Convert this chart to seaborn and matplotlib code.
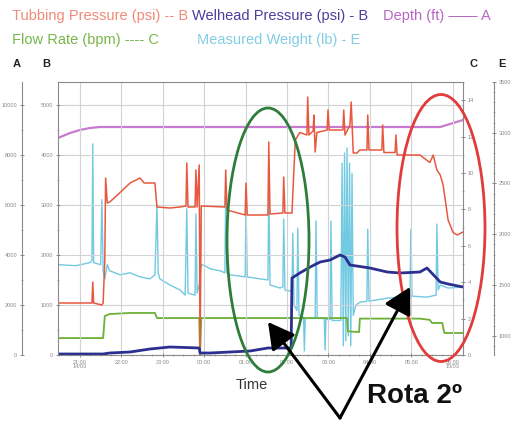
import matplotlib
matplotlib.use("Agg")
import matplotlib.pyplot as plt
import seaborn as sns
from matplotlib.patches import Ellipse, FancyArrowPatch
from matplotlib.ticker import MultipleLocator

# x positions are hours elapsed since 21:00
time_ticks = [0, 1, 2, 3, 4, 5, 6, 7, 8, 9]
time_labels = ["21:00\n14/03", "22:00", "23:00", "00:00", "01:00",
               "02:00", "03:00", "04:00", "05:00", "06:00\n15/03"]

# Tubing pressure (psi) - axis B
tubing_t = [-0.53, 0.24, 0.29, 0.31, 0.33, 0.53, 0.56, 0.60, 0.62, 0.66, 0.72, 0.97,
            1.21, 1.45, 1.55, 1.81, 1.86, 2.17, 2.42, 2.56, 2.58, 2.61, 2.78, 2.80,
            2.83, 2.88, 2.90, 2.93, 3.50, 3.52, 3.55, 3.99, 4.01, 4.04, 4.54, 4.56,
            4.59, 4.90, 4.92, 4.95, 5.12, 5.20, 5.31, 5.48, 5.50, 5.53, 5.63, 5.65,
            5.68, 5.72, 5.97, 5.99, 6.02, 6.35, 6.37, 6.40, 6.52, 6.55, 6.60, 6.69,
            6.76, 6.93, 6.95, 6.98, 7.29, 7.31, 7.34, 7.61, 7.63, 7.66, 8.21, 8.45,
            8.53, 8.62, 8.70, 8.77, 8.89, 9.01, 9.11, 9.25]
tubing_psi = [1040, 1040, 1040, 1460, 1040, 1000, 1040, 1900, 3540, 3040, 3060, 3250,
              3440, 3540, 3440, 3440, 2960, 2940, 2960, 2980, 3840, 2960, 2960, 3700,
              2960, 3800, 0, 2980, 2960, 3700, 2900, 2800, 3440, 2800, 2800, 4260,
              2820, 2840, 3560, 2840, 2840, 4300, 4450, 4400, 5160, 4400, 4480, 4800,
              4060, 4450, 4500, 4900, 4500, 4500, 4900, 4400, 4600, 5060, 4040, 4040,
              4100, 4100, 4800, 4100, 4100, 4600, 4050, 4050, 4400, 4000, 4000, 3850,
              4000, 3700, 3600, 3400, 2700, 2450, 2400, 2460]

# Wellhead pressure (psi) - axis B
wellhead_t = [-0.53, 0.56, 0.72, 1.21, 1.69, 2.17, 2.54, 2.88, 2.90, 3.14, 3.62, 4.11,
              4.54, 5.10, 5.12, 5.31, 5.56, 5.80, 6.04, 6.28, 6.40, 6.52, 7.00, 7.42,
              7.73, 8.21, 8.38, 8.70, 8.89, 9.25]
wellhead_psi = [20, 20, 40, 60, 120, 160, 150, 140, 40, 40, 60, 80,
                140, 140, 1540, 1640, 1760, 1860, 1900, 2000, 1960, 1800, 1740, 1660,
                1640, 1660, 1740, 1460, 1420, 1360]

# Depth (ft) - axis A
depth_t = [-0.53, -0.24, 0.0, 0.24, 0.48, 8.70, 9.25]
depth_ft = [8680, 8880, 9000, 9080, 9120, 9120, 9400]

# Flow rate (bpm) - axis C
flow_t = [-0.53, 0.56, 0.60, 0.72, 1.21, 1.81, 1.86, 2.88, 2.90, 2.93, 6.45, 6.47,
          6.74, 6.76, 8.20, 8.45, 8.50, 8.75, 8.80, 9.25]
flow_bpm = [0.93, 0.93, 2.14, 2.25, 2.31, 2.31, 2.03, 2.03, 0.0, 2.03, 2.03, 1.30,
            1.26, 2.0, 2.0, 1.93, 1.76, 1.76, 1.21, 1.21]

# Measured weight (lb) - axis E
weight_t = [-0.53, -0.10, 0.24, 0.29, 0.31, 0.33, 0.50, 0.53, 0.56, 0.60, 0.66, 0.72,
            0.97, 1.21, 1.45, 1.69, 1.81, 1.86, 1.89, 1.93, 2.17, 2.42, 2.54, 2.58,
            2.61, 2.78, 2.80, 2.83, 2.88, 2.93, 3.02, 3.14, 3.38, 3.50, 3.52, 3.55,
            3.62, 3.99, 4.01, 4.04, 4.35, 4.54, 4.56, 4.59, 4.83, 4.90, 4.92, 4.95,
            5.07, 5.12, 5.14, 5.17, 5.24, 5.26, 5.29, 5.40, 5.42, 5.44, 5.56, 5.68,
            5.70, 5.73, 5.90, 5.92, 5.94, 6.04, 6.06, 6.09, 6.30, 6.33, 6.36, 6.39,
            6.42, 6.45, 6.48, 6.51, 6.54, 6.57, 6.60, 6.66, 6.76, 6.93, 6.95, 6.98,
            7.42, 7.73, 7.97, 7.99, 8.02, 8.38, 8.60, 8.62, 8.65, 8.70, 8.89, 9.25]
weight_lb = [1700, 1690, 1720, 1740, 2890, 1720, 1700, 2340, 1640, 1560, 1700, 1640,
             1600, 1620, 1580, 1560, 1600, 2290, 1620, 1560, 1500, 1450, 1400, 2250,
             1420, 1400, 2200, 1420, 1500, 1700, 1690, 1660, 1640, 1620, 2390, 1620,
             1600, 1580, 2270, 1580, 1560, 1550, 2500, 1500, 1470, 1480, 2150, 1450,
             1440, 1450, 2010, 1300, 1250, 2060, 1200, 1180, 850, 1170, 1170, 1170,
             2130, 1170, 1170, 860, 1160, 1160, 2130, 1150, 1150, 2700, 900, 2800,
             950, 2850, 1000, 2700, 900, 2600, 1200, 1300, 1330, 1340, 2050, 1340,
             1370, 1380, 1370, 2050, 1390, 1380, 1400, 2100, 1450, 1500, 1470, 1480]

FW, FH = 515, 423


def fpos(x, y):
    return x / FW, 1 - y / FH


sns.set_theme(style="white")
plt.rcParams["font.family"] = ["Liberation Sans", "DejaVu Sans"]

fig = plt.figure(figsize=(FW / 100, FH / 100), dpi=100)
fig.patch.set_facecolor("white")
ax = fig.add_axes([58 / FW, 68 / FH, 405 / FW, 273 / FH])

axE = ax.twinx()
axC = ax.twinx()
axA = ax.twinx()

ax.set_zorder(4)
ax.patch.set_visible(False)
axE.set_zorder(1)
axC.set_zorder(2)
axA.set_zorder(3)

TUB = "#e8583f"
WELL = "#2c2f8f"
DEPTH = "#c77ad0"
FLOW = "#6cb035"
WEIGHT = "#72c9e2"
GRID = "#cfd3d3"
AXC = "#8a8a8a"

sns.lineplot(x=weight_t, y=weight_lb, ax=axE, estimator=None, sort=False,
             color=WEIGHT, lw=1.0)
sns.lineplot(x=flow_t, y=flow_bpm, ax=axC, estimator=None, sort=False,
             color=FLOW, lw=1.3)
sns.lineplot(x=depth_t, y=depth_ft, ax=axA, estimator=None, sort=False,
             color=DEPTH, lw=1.6)
sns.lineplot(x=tubing_t, y=tubing_psi, ax=ax, estimator=None, sort=False,
             color=TUB, lw=1.1)
sns.lineplot(x=wellhead_t, y=wellhead_psi, ax=ax, estimator=None, sort=False,
             color=WELL, lw=2.0)

for a in (ax, axA, axC, axE):
    a.set_xlim(-0.53, 9.25)
    a.set_xlabel("")
    a.set_ylabel("")
    for s in a.spines.values():
        s.set_visible(False)

# B axis (main, left spine of plot box)
ax.set_ylim(0, 5460)
ax.yaxis.set_major_locator(MultipleLocator(1000))
ax.yaxis.set_minor_locator(MultipleLocator(500))
for side in ("left", "top", "bottom"):
    ax.spines[side].set_visible(True)
    ax.spines[side].set_color(AXC)
    ax.spines[side].set_linewidth(0.8)
ax.set_xticks(time_ticks)
ax.set_xticklabels(time_labels)
ax.xaxis.set_minor_locator(MultipleLocator(0.25))
ax.grid(True, which="major", color=GRID, lw=0.8)
ax.tick_params(axis="both", which="major", direction="inout", length=3, width=0.7,
               colors=AXC, labelsize=4, pad=2)
ax.tick_params(axis="both", which="minor", direction="inout", length=2, width=0.5,
               colors=AXC)
ax.tick_params(axis="x", which="both", bottom=True, labelbottom=True)
ax.tick_params(axis="y", which="both", left=True)
for t in ax.get_xticklabels():
    t.set_linespacing(0.9)

# A axis (outer left)
axA.set_ylim(0, 10920)
axA.yaxis.tick_left()
axA.spines["left"].set_visible(True)
axA.spines["left"].set_position(("outward", 26))
axA.spines["left"].set_color(AXC)
axA.spines["left"].set_linewidth(0.8)
axA.yaxis.set_major_locator(MultipleLocator(2000))
axA.yaxis.set_minor_locator(MultipleLocator(1000))
axA.tick_params(axis="y", which="major", direction="inout", length=3, width=0.7,
                colors=AXC, labelsize=4, pad=2)
axA.tick_params(axis="y", which="minor", direction="inout", length=2, width=0.5,
                colors=AXC)
axA.tick_params(axis="x", which="both", bottom=False, top=False,
                labelbottom=False, labeltop=False)

# C axis (right spine of plot box)
axC.set_ylim(0, 15)
axC.spines["right"].set_visible(True)
axC.spines["right"].set_color(AXC)
axC.spines["right"].set_linewidth(0.8)
axC.yaxis.set_major_locator(MultipleLocator(2))
axC.yaxis.set_minor_locator(MultipleLocator(1))
axC.tick_params(axis="y", which="major", direction="inout", length=3, width=0.7,
                colors=AXC, labelsize=4, pad=2)
axC.tick_params(axis="y", which="minor", direction="inout", length=2, width=0.5,
                colors=AXC)
axC.tick_params(axis="x", which="both", bottom=False, top=False,
                labelbottom=False, labeltop=False)

# E axis (outer right)
axE.set_ylim(810, 3500)
axE.spines["right"].set_visible(True)
axE.spines["right"].set_position(("outward", 22))
axE.spines["right"].set_color(AXC)
axE.spines["right"].set_linewidth(0.8)
axE.yaxis.set_major_locator(MultipleLocator(500))
axE.yaxis.set_minor_locator(MultipleLocator(100))
axE.tick_params(axis="y", which="major", direction="inout", length=3, width=0.7,
                colors=AXC, labelsize=4, pad=2)
axE.tick_params(axis="y", which="minor", direction="inout", length=2, width=0.5,
                colors=AXC)
axE.tick_params(axis="x", which="both", bottom=False, top=False,
                labelbottom=False, labeltop=False)

# Series key above the plot
key_font = 10.5
fig.text(*fpos(12, 16), "Tubbing Pressure (psi) -- B", color="#f08a78",
         fontsize=key_font, va="center", ha="left")
fig.text(*fpos(192, 16), "Welhead Pressure (psi) - B", color="#4a3f9e",
         fontsize=key_font, va="center", ha="left")
fig.text(*fpos(383, 16), "Depth (ft) —— A", color="#b865c4",
         fontsize=key_font, va="center", ha="left")
fig.text(*fpos(12, 40), "Flow Rate (bpm) ---- C", color="#78b648",
         fontsize=key_font, va="center", ha="left")
fig.text(*fpos(197, 40), "Measured Weight (lb) - E", color="#82cde4",
         fontsize=key_font, va="center", ha="left")

# Axis letters
for lx, letter in ((13, "A"), (42, "B"), (470, "C"), (498, "E")):
    fig.text(*fpos(lx, 64), letter, color="#222222", fontsize=8,
             fontweight="bold", va="center", ha="left")

fig.text(*fpos(252, 385), "Time", color="#333333", fontsize=10.5,
         va="center", ha="center")

# Highlighted regions
fig.add_artist(Ellipse(fpos(268, 240), 82 / FW, 264 / FH, transform=fig.transFigure,
                       fill=False, edgecolor="#2f7d3a", lw=2.0, zorder=10))
fig.add_artist(Ellipse(fpos(441, 228), 88 / FW, 267 / FH, transform=fig.transFigure,
                       fill=False, edgecolor="#e23b3b", lw=2.0, zorder=10))

# Pointers to the rotation events
for tip in ((268, 322), (410, 287)):
    fig.add_artist(FancyArrowPatch(fpos(340, 418), fpos(*tip),
                                   transform=fig.transFigure,
                                   arrowstyle="-|>,head_length=1.0,head_width=0.55",
                                   mutation_scale=16, color="black", lw=2.2,
                                   shrinkA=0, shrinkB=0, zorder=11))

fig.text(*fpos(367, 396), "Rota 2º", color="#111111", fontsize=20,
         fontweight="bold", va="center", ha="left")

fig.savefig("out.png", dpi=100)
